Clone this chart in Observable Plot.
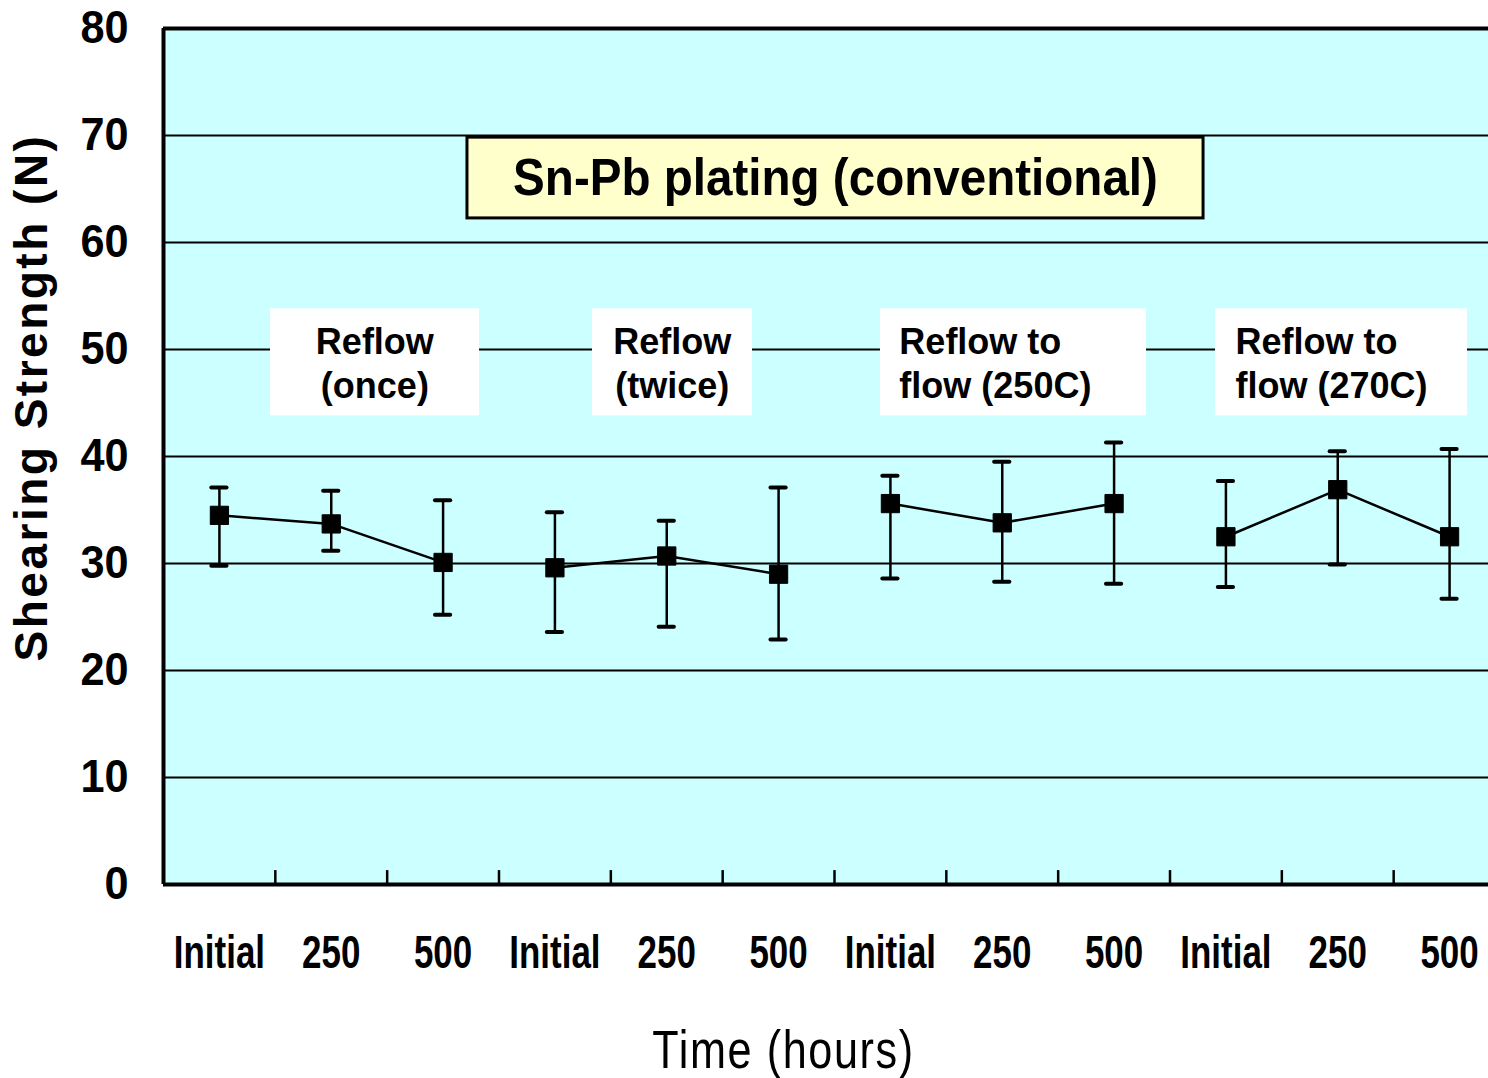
<!DOCTYPE html>
<html>
<head>
<meta charset="utf-8">
<script src="https://cdn.jsdelivr.net/npm/d3@7"></script>
<script src="https://cdn.jsdelivr.net/npm/@observablehq/plot@0.6"></script>
<style>
  html, body { margin: 0; padding: 0; background: #ffffff; }
  #chart { width: 1488px; height: 1078px; overflow: hidden; }
</style>
</head>
<body>
<div id="chart"></div>
<script>
// ---- data ----
const groups = ["Reflow (once)", "Reflow (twice)", "Reflow to flow (250C)", "Reflow to flow (270C)"];
const times = ["Initial", "250", "500"];
const meanValues  = [34.5, 33.7, 30.1, 29.6, 30.7, 29.0, 35.6, 33.8, 35.6, 32.5, 36.9, 32.5];
const upperValues = [37.1, 36.8, 35.9, 34.8, 34.0, 37.1, 38.2, 39.5, 41.3, 37.7, 40.5, 40.7];
const lowerValues = [29.8, 31.2, 25.2, 23.6, 24.1, 22.9, 28.6, 28.3, 28.1, 27.8, 29.9, 26.7];
const yTicks = [0, 10, 20, 30, 40, 50, 60, 70, 80];
const gridValues = [10, 20, 30, 40, 50, 60, 70];
const titleText = "Sn-Pb plating (conventional)";
const groupLabels = ["Reflow\n(once)", "Reflow\n(twice)", "Reflow to\nflow (250C)", "Reflow to\nflow (270C)"];
const yLabel = "Shearing Strength (N)";
const xLabel = "Time (hours)";

// annotation boxes (in data units: x index units, y in N)
const labelBoxes = [
  {x1: 0.957, x2: 2.826, y1: 43.8, y2: 53.8, tx: 1.89, anchor: "middle"},
  {x1: 3.836, x2: 5.267, y1: 43.8, y2: 53.8, tx: 4.55, anchor: "middle"},
  {x1: 6.411, x2: 8.790, y1: 43.8, y2: 53.8, tx: 6.58, anchor: "start"},
  {x1: 9.407, x2: 11.660, y1: 43.8, y2: 53.8, tx: 9.585, anchor: "start"}
];
const titleBox = {x1: 2.718, x2: 9.300, y1: 62.25, y2: 69.8};

// ---- build table ----
const data = [];
groups.forEach((g, gi) => {
  times.forEach((t, ti) => {
    const i = gi * times.length + ti;
    data.push({group: g, time: t, x: i + 0.5, mean: meanValues[i], hi: upperValues[i], lo: lowerValues[i]});
  });
});
const tickPositions = data.map(d => d.x);
const boundaries = d3.range(1, data.length);
const labelsWithText = labelBoxes.map((b, i) => ({...b, text: groupLabels[i]}));

const boldFont = "'Liberation Sans', Arial, Helvetica, sans-serif";
const capHalf = 0.068;

const labelText = (anchor) => Plot.text(labelsWithText.filter(d => d.anchor === anchor), {
  x: "tx", y: d => (d.y1 + d.y2) / 2, text: "text", textAnchor: anchor,
  fontSize: 36, fontWeight: "bold", fontFamily: boldFont, lineHeight: 1.22, lineAnchor: "middle", fill: "#000"
});

const chart = Plot.plot({
  width: 1488,
  height: 1078,
  marginLeft: 163,
  marginRight: 0,
  marginTop: 28,
  marginBottom: 194,
  style: {background: "#ffffff", fontFamily: boldFont, color: "#000"},
  x: {type: "linear", domain: [0, data.length], range: [163, 1505]},
  y: {domain: [0, 80]},
  marks: [
    Plot.frame({fill: "#ccffff", stroke: "none"}),
    Plot.ruleY(gridValues, {stroke: "#000", strokeWidth: 2}),
    // title box
    Plot.rect([titleBox], {x1: "x1", x2: "x2", y1: "y1", y2: "y2", fill: "#ffffcc", stroke: "#000", strokeWidth: 3}),
    Plot.text([titleText], {x: (titleBox.x1 + titleBox.x2) / 2, y: (titleBox.y1 + titleBox.y2) / 2,
      fontSize: 52, fontWeight: "bold", fontFamily: boldFont, fill: "#000", lineAnchor: "middle", textAnchor: "middle"}),
    // group label boxes
    Plot.rect(labelsWithText, {x1: "x1", x2: "x2", y1: "y1", y2: "y2", fill: "#ffffff"}),
    labelText("middle"),
    labelText("start"),
    // error bars
    Plot.ruleX(data, {x: "x", y1: "lo", y2: "hi", stroke: "#000", strokeWidth: 2.5}),
    Plot.ruleY(data, {y: "hi", x1: d => d.x - capHalf, x2: d => d.x + capHalf, stroke: "#000", strokeWidth: 4, strokeLinecap: "round"}),
    Plot.ruleY(data, {y: "lo", x1: d => d.x - capHalf, x2: d => d.x + capHalf, stroke: "#000", strokeWidth: 4, strokeLinecap: "round"}),
    // mean lines & markers
    Plot.line(data, {x: "x", y: "mean", z: "group", stroke: "#000", strokeWidth: 2.5}),
    Plot.dot(data, {x: "x", y: "mean", symbol: "square", r: 10.3, fill: "#000", stroke: "#000", strokeWidth: 1, strokeLinejoin: "round"}),
    // frame lines
    Plot.ruleX([0], {stroke: "#000", strokeWidth: 4}),
    Plot.ruleY([0, 80], {stroke: "#000", strokeWidth: 4}),
    Plot.ruleX(boundaries, {y1: 0, y2: 1.3, stroke: "#000", strokeWidth: 2.5}),
    // axes
    Plot.axisY({ticks: yTicks, tickSize: 0, tickPadding: 35, fontSize: 46, fontWeight: "bold", fontFamily: boldFont, label: null}),
    Plot.axisX({ticks: tickPositions, tickSize: 0, tickPadding: 51, tickFormat: (v) => data.find(d => d.x === v).time,
      fontSize: 46, fontWeight: "bold", fontFamily: boldFont, label: null}),
    // axis titles
    Plot.text([yLabel], {frameAnchor: "left", rotate: -90, dx: -131, dy: -59, fontSize: 46, fontWeight: "bold",
      fontFamily: boldFont, lineAnchor: "middle", textAnchor: "middle", fill: "#000"}),
    Plot.text([xLabel], {frameAnchor: "bottom-left", dx: 620, dy: 166, fontSize: 54, fontWeight: "normal",
      fontFamily: boldFont, lineAnchor: "middle", textAnchor: "middle", fill: "#000"})
  ]
});
document.getElementById("chart").appendChild(chart);

// horizontal condensing of text, as in the reference's narrow typeface
function condenseSel(sel, sx) {
  sel.each(function () {
    const el = d3.select(this);
    let t = el.attr("transform");
    if (!t) {
      const x = +el.attr("x") || 0, y = +el.attr("y") || 0;
      el.attr("x", null).attr("y", null);
      t = `translate(${x},${y})`;
    }
    el.attr("transform", `${t} scale(${sx},1)`);
  });
}
const allText = d3.select(chart).selectAll("text");
const byContent = (s) => allText.filter(function () { return this.textContent === s; });
condenseSel(d3.select(chart).selectAll('g[aria-label="x-axis tick label"] text'), 0.76);
condenseSel(d3.select(chart).selectAll('g[aria-label="y-axis tick label"] text'), 0.94);
condenseSel(byContent(titleText), 0.915);
condenseSel(byContent(xLabel), 0.8);
byContent(yLabel).attr("letter-spacing", "2.5px");
byContent(xLabel).attr("letter-spacing", "2px");
</script>
</body>
</html>
